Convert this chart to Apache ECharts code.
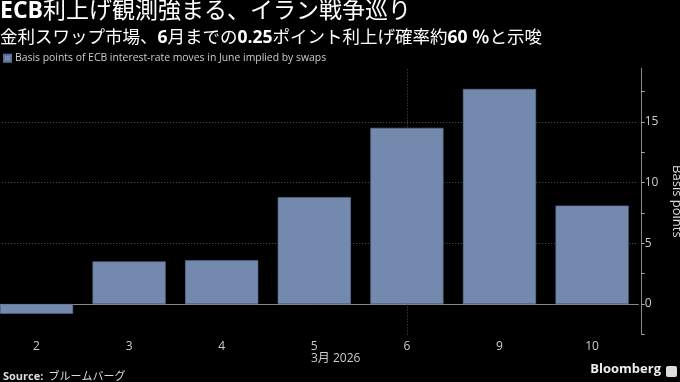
<!DOCTYPE html>
<html><head><meta charset="utf-8">
<script src="https://cdn.jsdelivr.net/npm/echarts@6/dist/echarts.min.js"></script>
<style>html,body{margin:0;padding:0;background:#000;}#c{width:680px;height:382px;}</style>
</head><body><div id="c"></div>
<script>
const categories = ['2','3','4','5','6','9','10'];
const values = [-0.8, 3.5, 3.6, 8.8, 14.5, 17.7, 8.1];
const yLabelTicks = [0, 5, 10, 15];
const yMinorTicks = [-2.5, 0, 2.5, 5, 7.5, 10, 12.5, 15, 17.5];
const markedCategory = '6';
const seriesName = 'Basis points of ECB interest-rate moves in June implied by swaps';
const xAxisTitle = '3月 2026';

const FF = '"Open Sans","Noto Sans CJK JP",sans-serif';
const chart = echarts.init(document.getElementById('c'), null, {renderer:'canvas'});
chart.setOption({
  backgroundColor: '#000',
  animation: false,
  title: [
    {left: 0, top: 0, padding: 0, text: '{b|ECB}{n|利上げ観測強まる、イラン戦争巡り}',
     textStyle: {rich: {
       b: {fontFamily: FF, fontWeight: 'bold', fontSize: 23, color: '#fff'},
       n: {fontFamily: FF, fontWeight: 'normal', fontSize: 23, color: '#fff'}}}},
    {left: 0, top: 29, padding: 0, text: '{n|金利スワップ市場、}{b|6}{n|月までの}{b|0.25}{n|ポイント利上げ確率約}{b|60 ％}{n|と示唆}',
     textStyle: {rich: {
       b: {fontFamily: FF, fontWeight: 'bold', fontSize: 17.5, color: '#fff'},
       n: {fontFamily: FF, fontWeight: 'normal', fontSize: 17.5, color: '#fff'}}}},
    {left: 311, top: 353, padding: 0, text: xAxisTitle,
     textStyle: {fontFamily: FF, fontSize: 12, fontWeight: 'normal', color: '#ccc'}},
    {left: 3, top: 368, padding: 0, text: '{b|Source:} {n|ブルームバーグ}',
     textStyle: {rich: {
       b: {fontFamily: FF, fontWeight: 'bold', fontSize: 11, color: '#ddd'},
       n: {fontFamily: FF, fontWeight: 'normal', fontSize: 11, color: '#ddd'}}}},
    {right: 19, top: 363, padding: 0, text: 'Bloomberg',
     textStyle: {fontFamily: FF, fontSize: 13, fontWeight: 'bold', color: '#eee'}}
  ],
  graphic: [
    {type: 'rect', right: 3, top: 366, shape: {width: 11, height: 11, r: 2}, style: {fill: '#ddd'}}
  ],
  legend: {
    left: 3, top: 53, padding: 0, itemWidth: 7, itemHeight: 7, itemGap: 4,
    icon: 'rect',
    textStyle: {fontFamily: FF, fontSize: 10.4, color: '#ccc', padding: [0,0,0,-1]},
    data: [seriesName]
  },
  grid: {left: -9.8, width: 648.2, top: 68.3, bottom: 382 - 334.4, containLabel: false, outerBoundsMode: 'none'},
  xAxis: {
    type: 'category', data: categories, position: 'bottom', offset: 2.3,
    axisLine: {lineStyle: {color: '#888', width: 1}},
    axisTick: {alignWithLabel: true, length: 3, lineStyle: {color: '#888'}},
    axisLabel: {color: '#ccc', fontFamily: FF, fontSize: 12, margin: 4},
    splitLine: {show: false}
  },
  yAxis: [
    {type: 'value', position: 'right', min: -2.5, max: 19.4, offset: 3.3,
     axisLine: {show: true, lineStyle: {color: '#888'}},
     axisTick: {show: true, length: 3, customValues: yMinorTicks, lineStyle: {color: '#aaa'}},
     axisLabel: {customValues: yLabelTicks, color: '#ccc', fontFamily: FF, fontSize: 12, margin: 3},
     splitLine: {show: false},
     name: 'Basis points', nameLocation: 'middle', nameRotate: -90, nameGap: 29, nameMoveOverlap: false,
     nameTextStyle: {color: '#ddd', fontFamily: FF, fontSize: 13}},
    {type: 'value', position: 'right', min: -2.5, max: 19.4,
     axisLine: {show: false}, axisLabel: {show: false},
     axisTick: {show: false, customValues: yLabelTicks},
     splitLine: {show: true, lineStyle: {color: '#555', type: [1, 2], width: 1}}}
  ],
  series: [{
    name: seriesName, type: 'bar', data: values, yAxisIndex: 0,
    barCategoryGap: '21%',
    itemStyle: {color: '#7389ad', borderColor: '#5d7194', borderWidth: 0.6},
    markLine: {
      silent: true, symbol: 'none', z: 1,
      label: {show: false},
      lineStyle: {color: '#555', type: [1, 2], width: 1},
      data: [{xAxis: markedCategory}]
    }
  }]
});
</script></body></html>
